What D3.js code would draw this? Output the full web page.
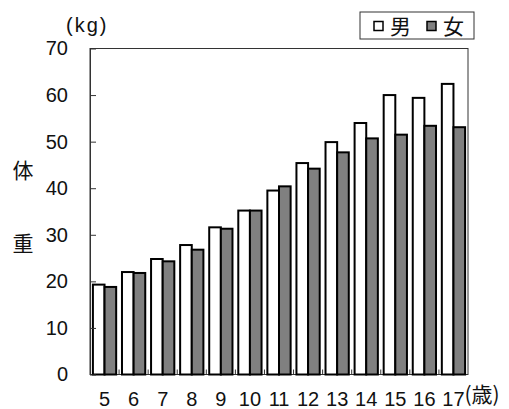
<!DOCTYPE html>
<html>
<head>
<meta charset="utf-8">
<script src="https://cdn.jsdelivr.net/npm/d3@7"></script>
<style>
  body { margin: 0; background: #fff; }
  svg { display: block; }
  .num { font-family: "Liberation Sans", Arial, sans-serif; font-size: 20px; fill: #111; }
  .cjk { font-family: "Noto Sans CJK JP", sans-serif; font-size: 21px; fill: #111; }
</style>
</head>
<body>
<svg id="chart" width="509" height="409"></svg>
<script>
// data
const ages = ["5", "6", "7", "8", "9", "10", "11", "12", "13", "14", "15", "16", "17"];
const male = [19.3, 22.0, 24.8, 27.8, 31.6, 35.2, 39.5, 45.4, 49.9, 54.0, 60.0, 59.4, 62.4];
const female = [18.8, 21.8, 24.3, 26.8, 31.3, 35.2, 40.4, 44.2, 47.7, 50.7, 51.5, 53.4, 53.1];
const yTicks = [0, 10, 20, 30, 40, 50, 60, 70];
const seriesNames = ["男", "女"];
const seriesColors = ["#ffffff", "#808080"];

const plotL = 90, plotR = 468, plotT = 48.5, plotB = 374.5;

const svg = d3.select("#chart");

const x = d3.scaleBand().domain(ages).range([plotL, plotR]).paddingInner(0.2).paddingOuter(0.1);
const xs = d3.scaleBand().domain([0, 1]).range([0, x.bandwidth()]);
const y = d3.scaleLinear().domain([0, 70]).range([plotB, plotT]);

// frame
svg.append("rect")
  .attr("x", plotL).attr("y", plotT)
  .attr("width", plotR - plotL).attr("height", plotB - plotT)
  .attr("fill", "none").attr("stroke", "#333").attr("stroke-width", 1);

// bars
const rows = ages.map((a, i) => ({age: a, vals: [male[i], female[i]]}));
const g = svg.append("g").selectAll("g").data(rows).join("g")
  .attr("transform", d => `translate(${x(d.age)},0)`);
g.selectAll("rect").data(d => d.vals.map((v, k) => ({v, k}))).join("rect")
  .attr("x", d => xs(d.k))
  .attr("y", d => y(d.v))
  .attr("width", xs.bandwidth())
  .attr("height", d => y(0) - y(d.v))
  .attr("fill", d => seriesColors[d.k])
  .attr("stroke", "#000")
  .attr("stroke-width", 2);

// y axis, ticks pointing inward
const yAxis = d3.axisLeft(y).tickValues(yTicks).tickSizeInner(-6).tickSizeOuter(0).tickPadding(22);
const ya = svg.append("g").attr("transform", `translate(${plotL},0)`).call(yAxis);
ya.select(".domain").attr("stroke", "#333");
ya.selectAll(".tick line").attr("stroke", "#333");
ya.selectAll(".tick text").attr("class", "num");
ya.attr("font-family", null).attr("font-size", null);

// x axis labels
const xAxis = d3.axisBottom(x).tickSize(0).tickPadding(17);
const xa = svg.append("g").attr("transform", `translate(0,${plotB})`).call(xAxis);
xa.select(".domain").remove();
xa.selectAll(".tick text").attr("class", "num");
xa.attr("font-family", null).attr("font-size", null);

// x ticks at category boundaries
const step = x.step();
svg.append("g").selectAll("line").data(ages.slice(1)).join("line")
  .attr("x1", d => x(d) - step * x.paddingInner() / 2)
  .attr("x2", d => x(d) - step * x.paddingInner() / 2)
  .attr("y1", plotB).attr("y2", plotB - 5)
  .attr("stroke", "#333");

// unit labels
svg.append("text").attr("class", "num").attr("x", 66).attr("y", 32).text("(kg)")
  .attr("letter-spacing", "2px");
svg.append("text").attr("class", "cjk").attr("x", 23).attr("y", 178).attr("text-anchor", "middle").text("体");
svg.append("text").attr("class", "cjk").attr("x", 23).attr("y", 251).attr("text-anchor", "middle").text("重");
svg.append("text").attr("class", "cjk").attr("x", x("17") + x.bandwidth() / 2 + 11).attr("y", 402)
  .attr("font-size", "19px").text("(歳)");

// legend
const lg = svg.append("g").attr("transform", "translate(360,12)");
lg.append("rect").attr("width", 114).attr("height", 27)
  .attr("fill", "#fff").attr("stroke", "#333").attr("stroke-width", 1);
const li = lg.selectAll("g").data(seriesNames).join("g")
  .attr("transform", (d, i) => `translate(${14 + i * 53},0)`);
li.append("rect").attr("x", 0).attr("y", 9.5).attr("width", 9).attr("height", 9)
  .attr("fill", (d, i) => seriesColors[i]).attr("stroke", "#000").attr("stroke-width", 1.5);
li.append("text").attr("class", "cjk").attr("x", 16).attr("y", 22).attr("font-size", "22px").text(d => d);
</script>
</body>
</html>
